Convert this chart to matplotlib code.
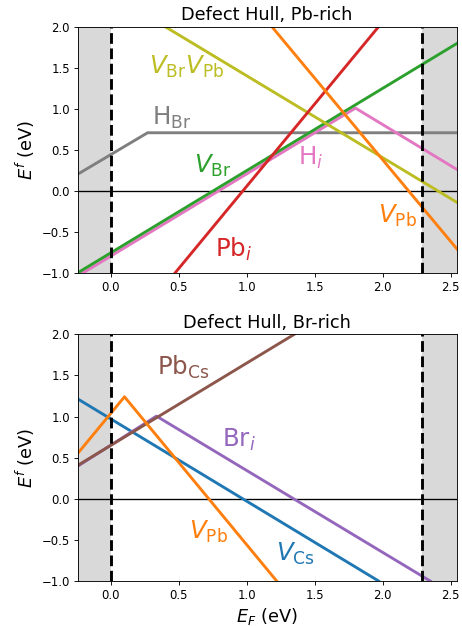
import matplotlib
matplotlib.use("Agg")
import matplotlib.pyplot as plt

# ---- data ----
x_limits = (-0.245, 2.545)
y_limits = (-1.0, 2.0)
band_gap = 2.29
x_ticks = [0.0, 0.5, 1.0, 1.5, 2.0, 2.5]
y_ticks = [-1.0, -0.5, 0.0, 0.5, 1.0, 1.5, 2.0]

# Pb-rich defects: vertices of each formation-energy hull
pb_vbr_x = [-0.25, 2.55]
pb_vbr_y = [-1.00, 1.80]
pb_hi_x = [-0.25, 1.80, 2.55]
pb_hi_y = [-1.04, 1.01, 0.26]
pb_pbi_x = [0.47, 1.97]
pb_pbi_y = [-1.00, 2.00]
pb_vpb_x = [1.185, 2.55]
pb_vpb_y = [2.00, -0.71]
pb_vbrvpb_x = [0.40, 2.55]
pb_vbrvpb_y = [2.00, -0.14]
pb_hbr_x = [-0.25, 0.27, 2.55]
pb_hbr_y = [0.20, 0.71, 0.71]

# Br-rich defects
br_vcs_x = [-0.25, 1.97]
br_vcs_y = [1.22, -1.00]
br_vpb_x = [-0.25, 0.10, 1.22]
br_vpb_y = [0.54, 1.24, -1.00]
br_bri_x = [-0.25, 0.335, 2.35]
br_bri_y = [0.39, 1.005, -1.00]
br_pbcs_x = [-0.25, 1.35]
br_pbcs_y = [0.40, 2.00]

# labels: (text, x, y, color)
pb_labels = [
    (r"$V_{\rm Br}V_{\rm Pb}$", 0.56, 1.51, "tab:olive"),
    (r"$\rm H_{Br}$", 0.45, 0.89, "tab:gray"),
    (r"$V_{\rm Br}$", 0.75, 0.31, "tab:green"),
    (r"$\rm H_{\it i}$", 1.47, 0.40, "tab:pink"),
    (r"$\rm Pb_{\it i}$", 0.90, -0.71, "tab:red"),
    (r"$V_{\rm Pb}$", 2.11, -0.30, "tab:orange"),
]
br_labels = [
    (r"$\rm Pb_{Cs}$", 0.53, 1.60, "tab:brown"),
    (r"$\rm Br_{\it i}$", 0.945, 0.72, "tab:purple"),
    (r"$V_{\rm Pb}$", 0.72, -0.40, "tab:orange"),
    (r"$V_{\rm Cs}$", 1.36, -0.67, "tab:blue"),
]

DPI = 80
fig = plt.figure(figsize=(462 / DPI, 626 / DPI), dpi=DPI)
ax1 = fig.add_axes([0.168, 0.5634, 0.8205, 0.3939])
ax2 = fig.add_axes([0.168, 0.0719, 0.8205, 0.3941])

def frame(ax, title):
    ax.axvspan(x_limits[0] - 1, 0, color="#d9d9d9", zorder=0, lw=0)
    ax.axvspan(band_gap, x_limits[1] + 1, color="#d9d9d9", zorder=0, lw=0)
    ax.axhline(0, color="black", lw=1.2, zorder=1)
    ax.axvline(0, color="black", ls="--", lw=2.6, zorder=5)
    ax.axvline(band_gap, color="black", ls="--", lw=2.6, zorder=5)
    ax.set_xlim(*x_limits)
    ax.set_ylim(*y_limits)
    ax.set_xticks(x_ticks)
    ax.set_yticks(y_ticks)
    ax.tick_params(labelsize=10.5)
    ax.set_title(title, fontsize=16)
    ax.set_ylabel(r"$E^f$ (eV)", fontsize=16)

frame(ax1, "Defect Hull, Pb-rich")
lw = 2.6
ax1.plot(pb_hbr_x, pb_hbr_y, color="tab:gray", lw=lw, zorder=2)
ax1.plot(pb_hi_x, pb_hi_y, color="tab:pink", lw=lw, zorder=2)
ax1.plot(pb_vbr_x, pb_vbr_y, color="tab:green", lw=lw, zorder=2)
ax1.plot(pb_vbrvpb_x, pb_vbrvpb_y, color="tab:olive", lw=lw, zorder=2)
ax1.plot(pb_pbi_x, pb_pbi_y, color="tab:red", lw=lw, zorder=2)
ax1.plot(pb_vpb_x, pb_vpb_y, color="tab:orange", lw=lw, zorder=2)
for t, x, y, c in pb_labels:
    ax1.text(x, y, t, color=c, fontsize=22, ha="center", va="center")

frame(ax2, "Defect Hull, Br-rich")
ax2.plot(br_vcs_x, br_vcs_y, color="tab:blue", lw=lw, zorder=2)
ax2.plot(br_bri_x, br_bri_y, color="tab:purple", lw=lw, zorder=2)
ax2.plot(br_pbcs_x, br_pbcs_y, color="tab:brown", lw=lw, zorder=2)
ax2.plot(br_vpb_x, br_vpb_y, color="tab:orange", lw=lw, zorder=2)
for t, x, y, c in br_labels:
    ax2.text(x, y, t, color=c, fontsize=22, ha="center", va="center")
ax2.set_xlabel(r"$E_F$ (eV)", fontsize=16)

fig.savefig("out.png", dpi=DPI)
